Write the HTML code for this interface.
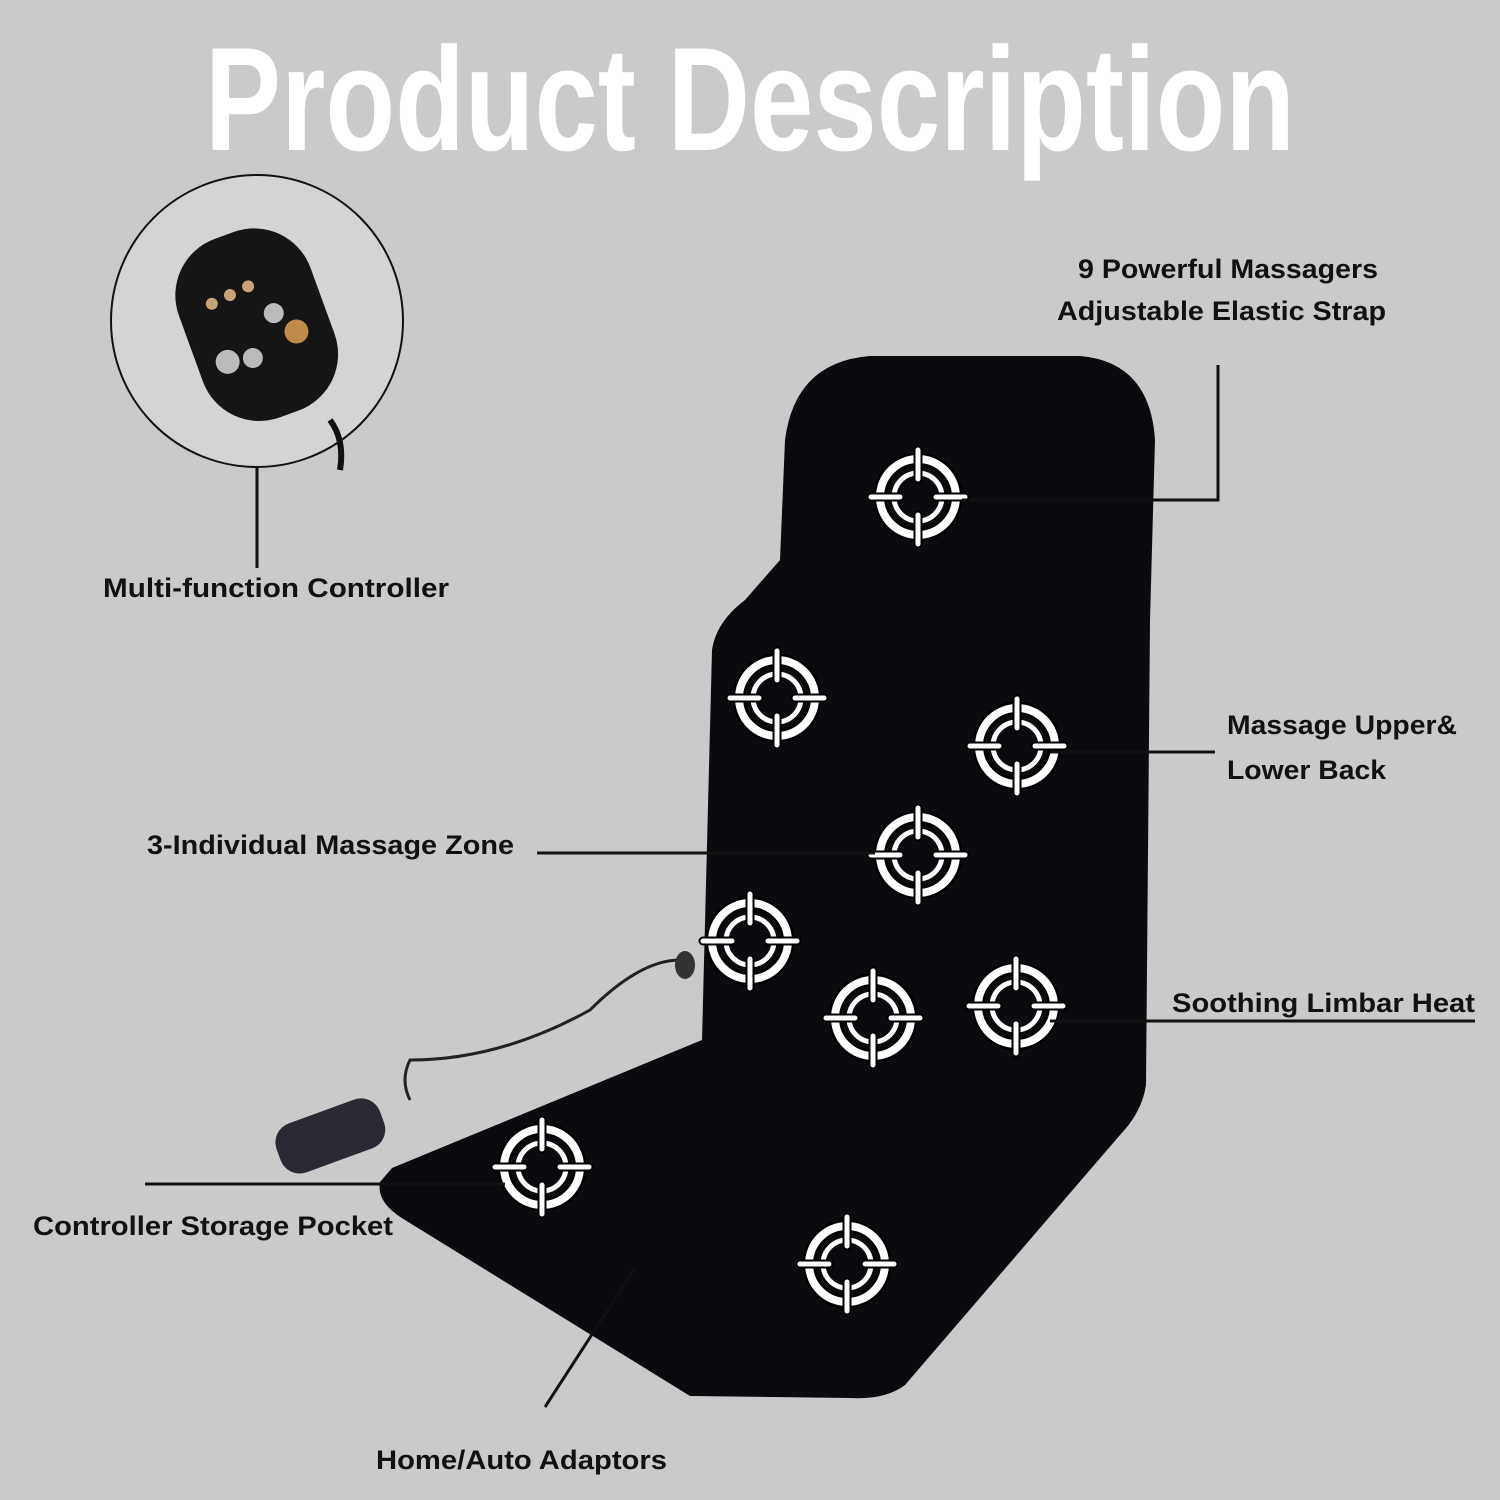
<!DOCTYPE html>
<html><head><meta charset="utf-8"><style>
html,body{margin:0;padding:0;background:#cacaca;}
svg{display:block;}
text{font-family:"Liberation Sans",sans-serif;font-weight:bold;}
</style></head><body>
<svg width="1500" height="1500" viewBox="0 0 1500 1500" xmlns="http://www.w3.org/2000/svg">
<defs>
<g id="t">
<circle r="38" fill="none" stroke="#000" stroke-width="13"/>
<circle r="38" fill="none" stroke="#fff" stroke-width="8"/>
<circle r="24" fill="none" stroke="#fff" stroke-width="5"/>
<g stroke="#000" stroke-width="9" stroke-linecap="round">
<line x1="0" y1="-47" x2="0" y2="-18"/><line x1="0" y1="47" x2="0" y2="18"/>
<line x1="-47" y1="0" x2="-18" y2="0"/><line x1="47" y1="0" x2="18" y2="0"/></g>
<g stroke="#fff" stroke-width="5" stroke-linecap="round">
<line x1="0" y1="-47" x2="0" y2="-18"/><line x1="0" y1="47" x2="0" y2="18"/>
<line x1="-47" y1="0" x2="-18" y2="0"/><line x1="47" y1="0" x2="18" y2="0"/></g>
</g>
</defs>
<rect width="1500" height="1500" fill="#cacaca"/>
<g transform="scale(1,1.25)">
<text x="205" y="120" font-size="118" fill="#fff" textLength="1090" lengthAdjust="spacingAndGlyphs">Product Description</text>
</g>

<!-- controller circle -->
<circle cx="257" cy="321" r="146" fill="#d4d4d4" stroke="#111" stroke-width="2"/>
<g transform="translate(255,320) rotate(-20)">
<rect x="-70" y="-90" width="140" height="190" rx="60" fill="#151515"/>
<circle cx="-35" cy="-30" r="6" fill="#c9a27a"/><circle cx="-15" cy="-32" r="6" fill="#c9a27a"/><circle cx="5" cy="-34" r="6" fill="#c9a27a"/>
<circle cx="-40" cy="30" r="12" fill="#bbb"/><circle cx="-15" cy="35" r="10" fill="#bbb"/><circle cx="20" cy="0" r="10" fill="#bbb"/><circle cx="35" cy="25" r="12" fill="#c08a4a"/>
</g>
<path d="M330,420 Q345,440 340,470" stroke="#111" stroke-width="6" fill="none"/>
<line x1="257" y1="468" x2="257" y2="568" stroke="#111" stroke-width="3"/>
<text x="103" y="597" font-size="27" fill="#111" textLength="346" lengthAdjust="spacingAndGlyphs">Multi-function Controller</text>

<!-- seat -->
<path d="M785,440 Q795,362 870,356 L1080,356 Q1150,362 1155,440 L1150,620 L1146,1085 Q1142,1112 1120,1135 L905,1385 Q885,1400 850,1398 L690,1396 L405,1220 Q376,1203 380,1182 L392,1168 L702,1040 L712,650 Q716,622 745,600 L780,560 Z" fill="#0a0a0f"/>
<path d="M680,960 Q640,960 590,1010 Q500,1060 410,1060 Q400,1080 410,1100" stroke="#222" stroke-width="3" fill="none"/>
<ellipse cx="685" cy="965" rx="10" ry="14" fill="#333"/>
<g transform="translate(330,1135) rotate(-20)">
<rect x="-55" y="-25" width="110" height="52" rx="20" fill="#2a2a35"/>
</g>

<use href="#t" x="918" y="497"/>
<use href="#t" x="777" y="698"/>
<use href="#t" x="1017" y="746"/>
<use href="#t" x="918" y="855"/>
<use href="#t" x="750" y="941"/>
<use href="#t" x="873" y="1018"/>
<use href="#t" x="1016" y="1006"/>
<use href="#t" x="542" y="1167"/>
<use href="#t" x="847" y="1264"/>

<g stroke="#111" stroke-width="3" fill="none">
<polyline points="1218,365 1218,500 962,500"/>
<line x1="1050" y1="752" x2="1215" y2="752"/>
<line x1="537" y1="853" x2="875" y2="853"/>
<line x1="1050" y1="1021" x2="1475" y2="1021"/>
<line x1="145" y1="1184" x2="505" y2="1184"/>
<line x1="545" y1="1407" x2="635" y2="1268"/>
</g>
<g font-size="27" fill="#111">
<text x="1078" y="278" textLength="300" lengthAdjust="spacingAndGlyphs">9 Powerful Massagers</text>
<text x="1057" y="320" textLength="329" lengthAdjust="spacingAndGlyphs">Adjustable Elastic Strap</text>
<text x="1227" y="734" textLength="230" lengthAdjust="spacingAndGlyphs">Massage Upper&amp;</text>
<text x="1227" y="779" textLength="159" lengthAdjust="spacingAndGlyphs">Lower Back</text>
<text x="147" y="854" textLength="367" lengthAdjust="spacingAndGlyphs">3-Individual Massage Zone</text>
<text x="1172" y="1012" textLength="303" lengthAdjust="spacingAndGlyphs">Soothing Limbar Heat</text>
<text x="33" y="1235" textLength="360" lengthAdjust="spacingAndGlyphs">Controller Storage Pocket</text>
<text x="376" y="1469" textLength="291" lengthAdjust="spacingAndGlyphs">Home/Auto Adaptors</text>
</g>
</svg>
</body></html>
